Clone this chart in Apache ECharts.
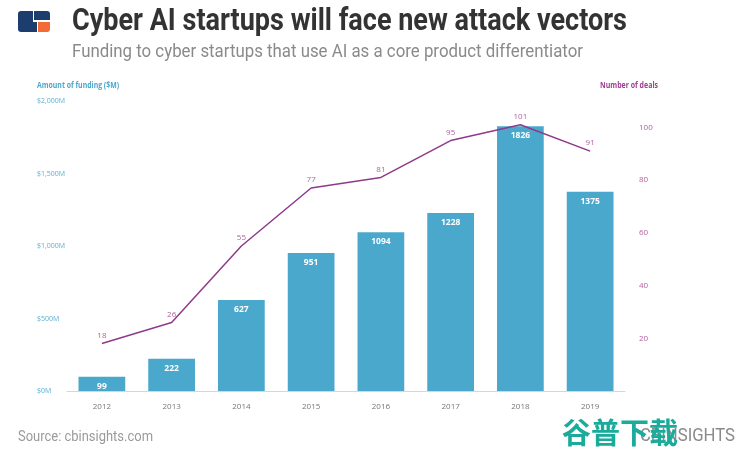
<!DOCTYPE html>
<html><head><meta charset="utf-8">
<script src="https://cdn.jsdelivr.net/npm/echarts@6/dist/echarts.min.js"></script>
<style>html,body{margin:0;padding:0;background:#fff}#c{width:740px;height:455px}</style>
</head><body><div id="c"></div>
<script>
const years = ['2012','2013','2014','2015','2016','2017','2018','2019'];
const funding = [99, 222, 627, 951, 1094, 1228, 1826, 1375];
const deals = [18, 26, 55, 77, 81, 95, 101, 91];
const leftTicks = [0, 500, 1000, 1500, 2000];
const rightTicks = [20, 40, 60, 80, 100];

const ctx = document.createElement('canvas').getContext('2d');
function fitText(text, font, width) {
  ctx.font = font;
  return width / ctx.measureText(text).width;
}
function scaledText(text, font, x, y, width, fill) {
  const s = fitText(text, font, width);
  return {type:'text', x:x, y:y, scaleX:s, style:{text:text, font:font, fill:fill, textVerticalAlign:'top'}};
}

const chart = echarts.init(document.getElementById('c'), null, {renderer:'canvas'});
const fmtMoney = v => '$' + v.toLocaleString('en-US') + 'M';
const titleText = 'Cyber AI startups will face new attack vectors';
const subText = 'Funding to cyber startups that use AI as a core product differentiator';
chart.setOption({
  backgroundColor: '#fff',
  animation: false,
  grid: {left: 67, right: 115, top: 101, bottom: 64},
  graphic: [
    {type:'rect', shape:{x:18,y:11,width:15,height:21,r:[3,0,0,3]}, style:{fill:'#1d3d6e'}},
    {type:'rect', shape:{x:34,y:11,width:16,height:9,r:[0,3,0,0]}, style:{fill:'#1d3d6e'}},
    {type:'rect', shape:{x:33,y:21,width:4,height:11}, style:{fill:'#1d3d6e'}},
    {type:'rect', shape:{x:38,y:22,width:12,height:10,r:[0,0,3,0]}, style:{fill:'#f26a35'}},
    {type:'rect', shape:{x:33,y:20,width:17,height:2}, style:{fill:'#fff'}},
    scaledText(titleText, 'bold 31px Roboto, sans-serif', 72, 7, 555, '#333'),
    scaledText(subText, '19px Roboto, sans-serif', 72, 43, 511, '#8a8a8a'),
    scaledText('Amount of funding ($M)', 'bold 8px "Open Sans", sans-serif', 37, 82, 82, '#4aa8cc'),
    scaledText('Number of deals', 'bold 8px "Open Sans", sans-serif', 600, 82, 58, '#a03d92'),
    scaledText('Source: cbinsights.com', '14px Roboto, sans-serif', 18, 430, 135, '#9a9a9a'),
    scaledText('CBINSIGHTS', '18px Roboto, sans-serif', 640, 427, 95, '#8a8a8a'),
    {type:'text', x:562, y:418, style:{text:'谷普下载', font:'bold 29px "Noto Sans CJK SC", sans-serif', fill:'#1aab9b', textVerticalAlign:'top'}}
  ],
  xAxis: {
    type:'category', data: years,
    axisLine:{lineStyle:{color:'#d6d6d6'}},
    axisTick:{alignWithLabel:true, length:8, lineStyle:{color:'#d6d6d6'}},
    axisLabel:{color:'#777', fontSize:8, margin:12, fontFamily:'"Open Sans", sans-serif'}
  },
  yAxis: [
    {type:'value', min:0, max:2000, interval:500, position:'left',
     axisLine:{show:false}, axisTick:{show:false}, splitLine:{show:false},
     axisLabel:{color:'#5ab0d0', fontSize:7, align:'left', margin:30, fontFamily:'"Open Sans", sans-serif',
       formatter: v => leftTicks.includes(v) ? fmtMoney(v) : ''}},
    {type:'value', min:0, max:110, interval:20, position:'right',
     axisLine:{show:false}, axisTick:{show:false}, splitLine:{show:false},
     axisLabel:{color:'#b0609f', fontSize:8, margin:14, fontFamily:'"Open Sans", sans-serif',
       formatter: v => rightTicks.includes(v) ? String(v) : ''}}
  ],
  series: [
    {type:'bar', data: funding, barWidth:'67%', yAxisIndex:0,
     itemStyle:{color:'#4aa8cc'},
     label:{show:true, position:'insideTop', color:'#fff', fontSize:8.5, fontWeight:'bold', distance:5, fontFamily:'"Open Sans", sans-serif'}},
    {type:'line', data: deals, yAxisIndex:1, symbol:'circle', symbolSize:0.01, showSymbol:true,
     lineStyle:{color:'#8e3a8a', width:1.5}, itemStyle:{color:'#8e3a8a'},
     label:{show:true, position:'top', color:'#b0609f', fontSize:8, distance:4, fontFamily:'"Open Sans", sans-serif'}}
  ]
});
</script></body></html>
